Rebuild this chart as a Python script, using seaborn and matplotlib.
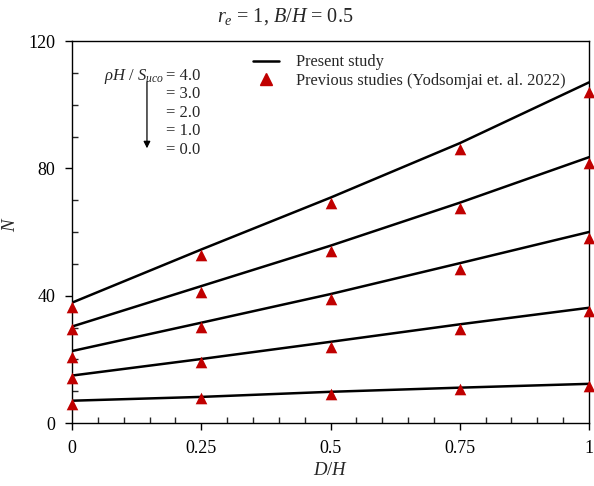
import numpy as np
import pandas as pd
import matplotlib
matplotlib.use("Agg")
import matplotlib.pyplot as plt
import seaborn as sns
from matplotlib.lines import Line2D
from matplotlib.ticker import MultipleLocator

# ---- data ----
d_over_h = [0.0, 0.25, 0.5, 0.75, 1.0]
rho_levels = [4.0, 3.0, 2.0, 1.0, 0.0]

present_4 = [37.8, 54.5, 70.8, 87.9, 107.0]
present_3 = [30.3, 43.0, 55.7, 69.2, 83.5]
present_2 = [22.6, 31.5, 40.5, 50.2, 60.0]
present_1 = [14.9, 20.1, 25.5, 31.0, 36.2]
present_0 = [7.0, 8.2, 9.8, 11.1, 12.3]

previous_4 = [36.5, 52.8, 69.0, 86.1, 103.9]
previous_3 = [29.4, 41.3, 54.1, 67.4, 81.6]
previous_2 = [20.8, 30.3, 39.0, 48.4, 58.0]
previous_1 = [14.0, 19.3, 24.0, 29.5, 35.2]
previous_0 = [6.0, 7.8, 9.0, 10.6, 11.7]

x_ticks = [0, 0.25, 0.5, 0.75, 1]
x_tick_labels = ["0", "0.25", "0.5", "0.75", "1"]
y_ticks = [0, 40, 80, 120]

present = [present_4, present_3, present_2, present_1, present_0]
previous = [previous_4, previous_3, previous_2, previous_1, previous_0]

rows_p, rows_q = [], []
for lvl, ys in zip(rho_levels, present):
    for x, y in zip(d_over_h, ys):
        rows_p.append({"D/H": x, "N": y, "rho": lvl})
for lvl, ys in zip(rho_levels, previous):
    for x, y in zip(d_over_h, ys):
        rows_q.append({"D/H": x, "N": y, "rho": lvl})
df_p = pd.DataFrame(rows_p)
df_q = pd.DataFrame(rows_q)

# ---- style ----
sns.set_style("ticks")
plt.rcParams["font.family"] = ["Liberation Serif", "DejaVu Serif"]
plt.rcParams["mathtext.fontset"] = "custom"
plt.rcParams["mathtext.rm"] = "Liberation Serif"
plt.rcParams["mathtext.it"] = "Liberation Serif:italic"
plt.rcParams["mathtext.bf"] = "Liberation Serif:bold"

fig = plt.figure(figsize=(5.94, 4.86), dpi=100)
ax = fig.add_axes([72 / 594, 1 - 423 / 486, 517 / 594, 382 / 486])

red = "#C00000"
sns.lineplot(data=df_p, x="D/H", y="N", hue="rho",
             palette=["black"] * len(rho_levels), linewidth=1.8,
             legend=False, ax=ax, estimator=None, sort=True)
sns.scatterplot(data=df_q, x="D/H", y="N", marker="^", color=red,
                s=70, edgecolor=red, linewidth=0, legend=False, ax=ax,
                zorder=5, clip_on=False)

ax.set_xlim(0, 1)
ax.set_ylim(0, 120)
ax.set_xticks(x_ticks)
ax.set_xticklabels(x_tick_labels)
ax.set_yticks(y_ticks)
ax.xaxis.set_minor_locator(MultipleLocator(0.05))
ax.yaxis.set_minor_locator(MultipleLocator(10))
ax.tick_params(which="major", direction="out", length=5, width=1,
               labelsize=13, colors="black", pad=7)
ax.tick_params(which="minor", direction="in", length=4, width=1)
ax.tick_params(axis="x", pad=7)
for s in ax.spines.values():
    s.set_linewidth(1.0)
    s.set_color("black")

ax.set_xlabel("$D/H$", fontsize=13.5, labelpad=4)
ax.set_ylabel("$N$", fontsize=13.5)
ax.yaxis.set_label_coords(-0.103, 0.52)
ax.text(0.412, 1.065, "$r_e$ = 1, $B/H$ = 0.5", fontsize=14.5,
        ha="center", va="center", transform=ax.transAxes)

# annotation of levels
ax.text(0.178, 109.0, r"$\rho H\ /\ S_{uco}$", fontsize=12, ha="right", va="center")
level_y = [109.0, 103.3, 97.3, 91.6, 85.8]
for lvl, yy in zip(rho_levels, level_y):
    ax.text(0.182, yy, f"= {lvl:.1f}", fontsize=12, ha="left", va="center")
ax.annotate("", xy=(0.145, 86.3), xytext=(0.145, 107.2),
            arrowprops=dict(arrowstyle="-|>", color="black", lw=0.9,
                            mutation_scale=10, shrinkA=0, shrinkB=0))

handles = [
    Line2D([], [], color="black", linewidth=1.8, label="Present study"),
    Line2D([], [], color=red, marker="^", linestyle="none", markersize=9,
           label="Previous studies (Yodsomjai et. al. 2022)"),
]
ax.legend(handles=handles, loc="upper left", bbox_to_anchor=(0.328, 0.995),
          frameon=False, fontsize=11.8, handlelength=1.6, handletextpad=1.0,
          labelspacing=0.15, borderaxespad=0.3)

fig.savefig("out.png", dpi=100)
